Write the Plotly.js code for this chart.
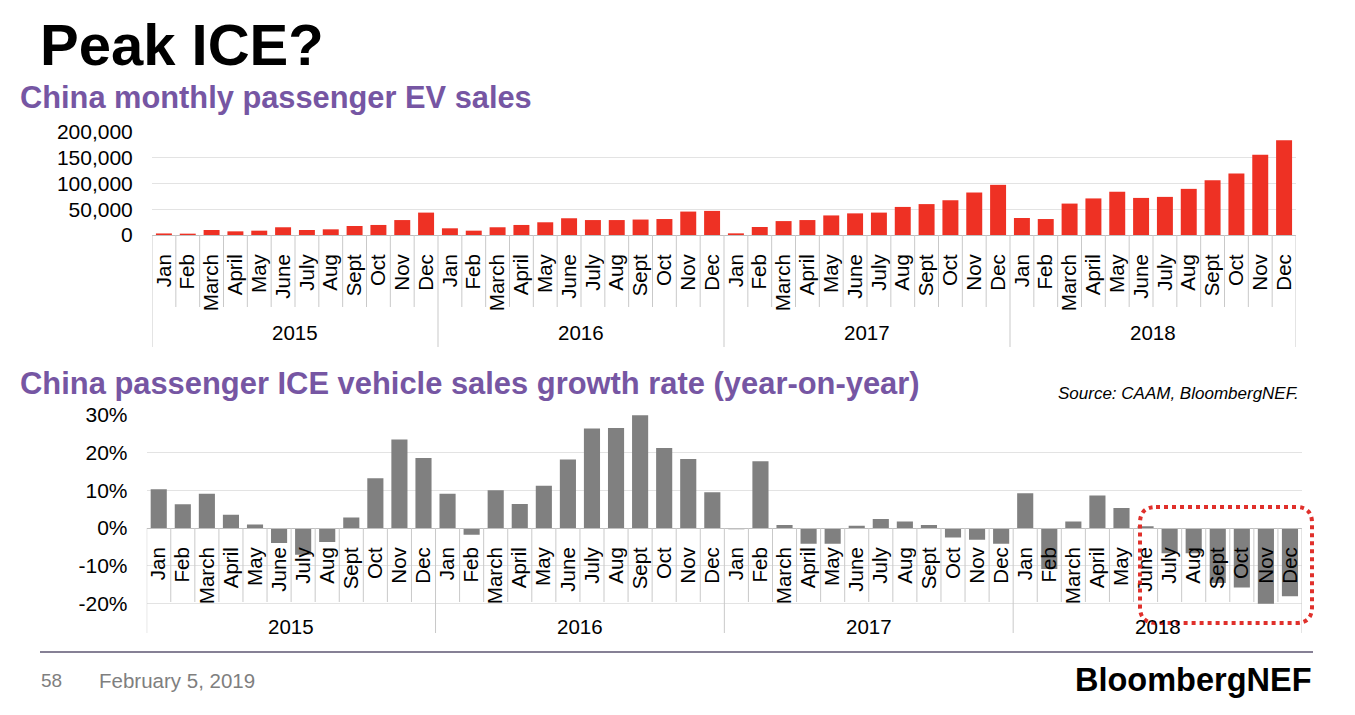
<!DOCTYPE html>
<html>
<head>
<meta charset="utf-8">
<script src="https://cdn.plot.ly/plotly-3.0.1.min.js"></script>
<style>
html,body{margin:0;padding:0;background:#fff;overflow:hidden;}
#wrap{position:relative;width:1355px;height:715px;}
#chart{position:absolute;left:0;top:0;width:1355px;height:715px;}
#dots1{position:absolute;left:918px;top:1px;width:437px;height:26px;
  background-image:radial-gradient(circle,#d4d4d4 0.9px,transparent 1.3px);
  background-size:11.2px 8.5px;}
#dots2{position:absolute;left:918px;top:29px;width:437px;height:9px;
  background-image:radial-gradient(circle,#c6c6c6 0.9px,transparent 1.3px);
  background-size:11.2px 9px;}
</style>
</head>
<body>
<div id="wrap">
<div id="dots1"></div>
<div id="dots2"></div>
<div id="chart"></div>
</div>
<script>
// ---- data ----
const months = ['Jan','Feb','March','April','May','June','July','Aug','Sept','Oct','Nov','Dec'];
const years = ['2015','2016','2017','2018'];
const evSales = [
  3000, 2600, 9700, 7100, 8400, 15000, 9700, 11000, 17500, 19500, 29000, 43500,
  13000, 8400, 15000, 19500, 24700, 32500, 29000, 29000, 30000, 31000, 45500, 46800,
  3200, 15600, 27000, 29000, 38000, 42000, 43500, 54500, 60000, 67500, 82500, 97400,
  33000, 31000, 61000, 71000, 84000, 72000, 74000, 89600, 106500, 119500, 156000, 184000
];
const iceGrowth = [
  10.3, 6.3, 9.1, 3.5, 0.9, -4.0, -7.1, -3.7, 2.8, 13.2, 23.5, 18.6,
  9.1, -1.8, 10.0, 6.4, 11.2, 18.2, 26.4, 26.5, 29.9, 21.2, 18.3, 9.5,
  -0.3, 17.7, 0.8, -4.2, -4.2, 0.6, 2.4, 1.7, 0.8, -2.5, -3.1, -4.2,
  9.2, -10.9, 1.7, 8.6, 5.3, 0.5, -6.7, -6.7, -14.6, -15.8, -20.1, -18.1
];
const evTicks = [0, 50000, 100000, 150000, 200000];
const evTickLabels = ['0', '50,000', '100,000', '150,000', '200,000'];
const iceTicks = [-20, -10, 0, 10, 20, 30];
const iceTickLabels = ['-20%', '-10%', '0%', '10%', '20%', '30%'];

// ---- derived ----
const W = 1355, H = 715;
const px = v => v / W;
const py = v => 1 - v / H;
const monthLabels = [];
years.forEach(() => months.forEach(m => monthLabels.push(m)));
const idx = monthLabels.map((_, i) => i);

const FONT = 'Liberation Sans, Arial, sans-serif';
const SEP = '#c9c9c9';
const GRID = '#e3e3e3';

const traces = [
  {type:'bar', x: idx, y: evSales, xaxis:'x', yaxis:'y',
   marker:{color:'#ee3124'}, hoverinfo:'y'},
  {type:'bar', x: idx, y: iceGrowth, xaxis:'x2', yaxis:'y2',
   marker:{color:'#808080'}, hoverinfo:'y'}
];

const shapes = [];
const annotations = [];

// category separators
function addSeparators(xref, yTopPx, monthBottomPx, yearBottomPx) {
  for (let i = 0; i <= monthLabels.length; i++) {
    const isYear = (i % months.length === 0);
    shapes.push({type:'line', xref: xref, yref:'paper',
      x0: i - 0.5, x1: i - 0.5, y0: py(yTopPx), y1: py(isYear ? yearBottomPx : monthBottomPx),
      line:{color: SEP, width:1}});
  }
}
addSeparators('x', 235, 307, 347);
addSeparators('x2', 528, 602, 633);

// year labels
years.forEach((yr, k) => {
  const c = k * months.length + (months.length - 1) / 2;
  annotations.push({xref:'x', yref:'paper', x: c, y: py(332), text: yr, showarrow:false,
    xanchor:'center', yanchor:'middle', font:{family:FONT, size:20.5, color:'#000'}});
  annotations.push({xref:'x2', yref:'paper', x: c, y: py(626), text: yr, showarrow:false,
    xanchor:'center', yanchor:'middle', font:{family:FONT, size:20.5, color:'#000'}});
});

// titles and texts
annotations.push({xref:'paper', yref:'paper', x: px(38), y: py(44), text:'<b>Peak ICE?</b>',
  showarrow:false, xanchor:'left', yanchor:'middle', font:{family:FONT, size:58, color:'#000'}});
annotations.push({xref:'paper', yref:'paper', x: px(18), y: py(97), text:'<b>China monthly passenger EV sales</b>',
  showarrow:false, xanchor:'left', yanchor:'middle', font:{family:FONT, size:30.8, color:'#7656a3'}});
annotations.push({xref:'paper', yref:'paper', x: px(18), y: py(383), text:'<b>China passenger ICE vehicle sales growth rate (year-on-year)</b>',
  showarrow:false, xanchor:'left', yanchor:'middle', font:{family:FONT, size:30.9, color:'#7656a3'}});
annotations.push({xref:'paper', yref:'paper', x: px(1301), y: py(393), text:'<i>Source: CAAM, BloombergNEF.</i>',
  showarrow:false, xanchor:'right', yanchor:'middle', font:{family:FONT, size:17, color:'#000'}});
annotations.push({xref:'paper', yref:'paper', x: px(39), y: py(680), text:'58',
  showarrow:false, xanchor:'left', yanchor:'middle', font:{family:FONT, size:19, color:'#7f7f7f'}});
annotations.push({xref:'paper', yref:'paper', x: px(97), y: py(680), text:'February 5, 2019',
  showarrow:false, xanchor:'left', yanchor:'middle', font:{family:FONT, size:20.5, color:'#7f7f7f'}});
annotations.push({xref:'paper', yref:'paper', x: px(1314), y: py(680), text:'<b>BloombergNEF</b>',
  showarrow:false, xanchor:'right', yanchor:'middle', font:{family:FONT, size:32.5, color:'#000'}});

// footer rule
shapes.push({type:'line', xref:'paper', yref:'paper', x0: px(40), x1: px(1313), y0: py(652), y1: py(652),
  line:{color:'#5e5672', width:1.5}});

// dotted rounded highlight box
(function(){
  const L = 1140, R = 1312, T = 507, B = 623, r = 16;
  const p = (a, b) => px(a) + ',' + py(b);
  const path = 'M ' + p(L + r, T) + ' L ' + p(R - r, T) + ' Q ' + p(R, T) + ' ' + p(R, T + r) +
    ' L ' + p(R, B - r) + ' Q ' + p(R, B) + ' ' + p(R - r, B) +
    ' L ' + p(L + r, B) + ' Q ' + p(L, B) + ' ' + p(L, B - r) +
    ' L ' + p(L, T + r) + ' Q ' + p(L, T) + ' ' + p(L + r, T) + ' Z';
  shapes.push({type:'path', xref:'paper', yref:'paper', path: path,
    line:{color:'#e0302b', width:4, dash:'dot'}, fillcolor:'rgba(0,0,0,0)'});
})();

const layout = {
  width: W, height: H, autosize:false,
  margin:{l:0, r:0, t:0, b:0, pad:0},
  paper_bgcolor:'#fff', plot_bgcolor:'rgba(0,0,0,0)',
  showlegend:false, bargap:0.33,
  font:{family:FONT, color:'#000'},
  xaxis:{domain:[px(152), px(1296)], range:[-0.5, monthLabels.length - 0.5], anchor:'y',
    tickmode:'array', tickvals: idx, ticktext: monthLabels, tickangle:-90,
    ticks:'outside', ticklen:10, tickcolor:'rgba(0,0,0,0)',
    tickfont:{family:FONT, size:20.5, color:'#000'},
    showgrid:false, zeroline:false, showline:true, linecolor:'#bfbfbf', linewidth:1,
    automargin:false, fixedrange:true},
  yaxis:{domain:[py(235), py(132)], range:[0, 200000], anchor:'x',
    tickmode:'array', tickvals: evTicks, ticktext: evTickLabels,
    ticks:'outside', ticklen:14, tickcolor:'rgba(0,0,0,0)',
    tickfont:{family:FONT, size:21, color:'#000'},
    showgrid:true, gridcolor: GRID, gridwidth:1, zeroline:false, showline:false,
    automargin:false, fixedrange:true},
  xaxis2:{domain:[px(146.7), px(1302)], range:[-0.5, monthLabels.length - 0.5],
    anchor:'free', position: py(528),
    tickmode:'array', tickvals: idx, ticktext: monthLabels, tickangle:-90,
    ticks:'outside', ticklen:10, tickcolor:'rgba(0,0,0,0)',
    tickfont:{family:FONT, size:20.5, color:'#000'},
    showgrid:false, zeroline:false, showline:true, linecolor:'#bfbfbf', linewidth:1,
    automargin:false, fixedrange:true},
  yaxis2:{domain:[py(607.2), py(414.9)], range:[-21, 30], anchor:'x2',
    tickmode:'array', tickvals: iceTicks, ticktext: iceTickLabels,
    ticks:'outside', ticklen:14, tickcolor:'rgba(0,0,0,0)',
    tickfont:{family:FONT, size:21, color:'#000'},
    showgrid:true, gridcolor: GRID, gridwidth:1, zeroline:false, showline:false,
    automargin:false, fixedrange:true},
  shapes: shapes,
  annotations: annotations
};

Plotly.newPlot('chart', traces, layout, {displayModeBar:false, staticPlot:true});
</script>
</body>
</html>
